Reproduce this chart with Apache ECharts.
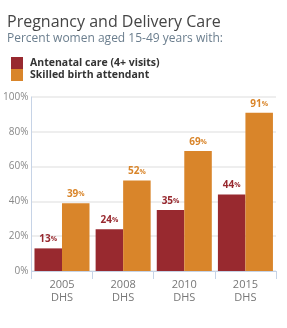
<!DOCTYPE html>
<html>
<head>
    <meta charset="utf-8" />
    <title>Pregnancy and Delivery Care</title>
    <script src="https://cdn.jsdelivr.net/npm/echarts@6/dist/echarts.min.js"></script>
    <style>
        body { margin: 0; background: #fff; }
    </style>
</head>
<body>
<div id="main" style="width: 287px;height:328px;"></div>
<script type="text/javascript">
    // survey rounds
    var surveys = ['2005\nDHS', '2008\nDHS', '2010\nDHS', '2015\nDHS'];
    // percent women aged 15-49
    var antenatal = [13, 24, 35, 44];
    var skilled = [39, 52, 69, 91];
    var yTicks = [0, 20, 40, 60, 80, 100];

    var red = '#98292f';
    var orange = '#d9852a';

    function pctLabel(color) {
        return {
            show: true,
            position: 'top',
            distance: 4,
            formatter: function (p) { return '{a|' + p.value + '}{b|%}'; },
            rich: {
                a: { fontSize: 10, fontWeight: 'bold', color: color, fontFamily: 'Open Sans' },
                b: { fontSize: 7, fontWeight: 'bold', color: color, fontFamily: 'Open Sans' }
            }
        };
    }

    var myChart = echarts.init(document.getElementById('main'));
    var option = {
        backgroundColor: '#fff',
        animation: false,
        title: {
            text: 'Pregnancy and Delivery Care',
            subtext: 'Percent women aged 15-49 years with:',
            left: 2,
            top: 9,
            itemGap: 3,
            textStyle: { fontSize: 16, fontWeight: 'normal', color: '#454545', fontFamily: 'Open Sans' },
            subtextStyle: { fontSize: 12, color: '#6b7e8e', fontFamily: 'Open Sans' }
        },
        legend: {
            orient: 'vertical',
            left: 6,
            top: 49,
            itemWidth: 12,
            itemHeight: 12,
            itemGap: -6,
            icon: 'rect',
            selectedMode: false,
            textStyle: { fontSize: 10.5, fontWeight: 'bold', color: '#333', fontFamily: 'Open Sans', lineHeight: 12, padding: [6, 0, 0, 2] },
            data: ['Antenatal care (4+ visits)', 'Skilled birth attendant']
        },
        grid: { left: 31, right: 11, top: 97, bottom: 57 },
        xAxis: {
            type: 'category',
            data: surveys,
            axisLine: { lineStyle: { color: '#c6d3e6' } },
            axisTick: { show: true, length: 8, lineStyle: { color: '#c6d3e6' } },
            axisLabel: { fontSize: 11, color: '#777', lineHeight: 13, margin: 7, fontFamily: 'Open Sans' }
        },
        yAxis: {
            type: 'value',
            min: yTicks[0],
            max: yTicks[yTicks.length - 1],
            interval: 20,
            axisLine: { show: true, lineStyle: { color: '#c6d3e6' } },
            axisLabel: { fontSize: 10, color: '#888', formatter: '{value}%', margin: 3, fontFamily: 'Open Sans' },
            splitLine: { lineStyle: { color: '#eeeeee', width: 2 } }
        },
        series: [
            {
                name: 'Antenatal care (4+ visits)',
                type: 'bar',
                data: antenatal,
                barGap: 0,
                barCategoryGap: '10%',
                itemStyle: { color: red },
                label: pctLabel(red)
            },
            {
                name: 'Skilled birth attendant',
                type: 'bar',
                data: skilled,
                itemStyle: { color: orange },
                label: pctLabel(orange)
            }
        ]
    };
    myChart.setOption(option);
</script>
</body>
</html>
